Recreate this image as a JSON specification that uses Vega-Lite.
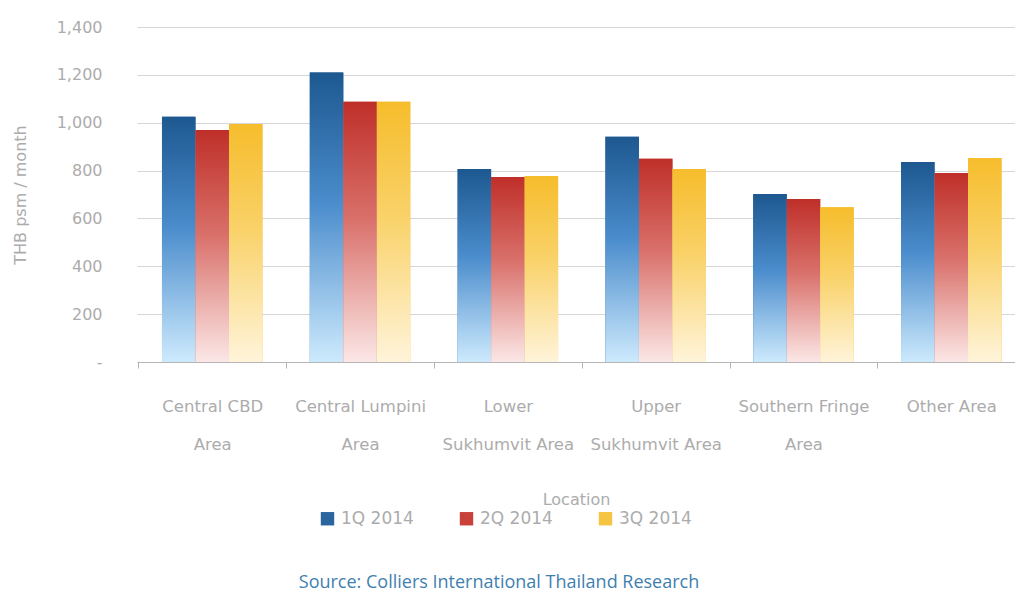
{
  "$schema": "https://vega.github.io/schema/vega-lite/v6.json",
  "width": 878,
  "height": 335,
  "padding": {"top": 19, "left": 12, "right": 0, "bottom": 2},
  "background": "white",
  "config": {
    "view": {"stroke": null},
    "font": "DejaVu Sans"
  },
  "title": {
    "text": "Source: Colliers International Thailand Research",
    "orient": "bottom",
    "anchor": "middle",
    "dx": -77,
    "offset": 47,
    "font": "Open Sans",
    "fontSize": 18,
    "fontWeight": "normal",
    "color": "#3f7fb0"
  },
  "data": {
    "values": [
      {"Location": "Central CBD Area", "Quarter": "1Q 2014", "value": 1025},
      {"Location": "Central CBD Area", "Quarter": "2Q 2014", "value": 970},
      {"Location": "Central CBD Area", "Quarter": "3Q 2014", "value": 995},
      {"Location": "Central Lumpini Area", "Quarter": "1Q 2014", "value": 1210},
      {"Location": "Central Lumpini Area", "Quarter": "2Q 2014", "value": 1088},
      {"Location": "Central Lumpini Area", "Quarter": "3Q 2014", "value": 1088},
      {"Location": "Lower Sukhumvit Area", "Quarter": "1Q 2014", "value": 807},
      {"Location": "Lower Sukhumvit Area", "Quarter": "2Q 2014", "value": 773},
      {"Location": "Lower Sukhumvit Area", "Quarter": "3Q 2014", "value": 777},
      {"Location": "Upper Sukhumvit Area", "Quarter": "1Q 2014", "value": 941},
      {"Location": "Upper Sukhumvit Area", "Quarter": "2Q 2014", "value": 849},
      {"Location": "Upper Sukhumvit Area", "Quarter": "3Q 2014", "value": 807},
      {"Location": "Southern Fringe Area", "Quarter": "1Q 2014", "value": 702},
      {"Location": "Southern Fringe Area", "Quarter": "2Q 2014", "value": 681},
      {"Location": "Southern Fringe Area", "Quarter": "3Q 2014", "value": 647},
      {"Location": "Other Area", "Quarter": "1Q 2014", "value": 836},
      {"Location": "Other Area", "Quarter": "2Q 2014", "value": 790},
      {"Location": "Other Area", "Quarter": "3Q 2014", "value": 853}
    ]
  },
  "encoding": {
    "x": {
      "field": "Location",
      "type": "nominal",
      "sort": ["Central CBD Area", "Central Lumpini Area", "Lower Sukhumvit Area", "Upper Sukhumvit Area", "Southern Fringe Area", "Other Area"],
      "scale": {"paddingInner": 0.32, "paddingOuter": 0.13, "align": 0.65},
      "axis": {
        "title": "Location",
        "labelAngle": 0,
        "labelExpr": "{'Central CBD Area': ['Central CBD', 'Area'], 'Central Lumpini Area': ['Central Lumpini', 'Area'], 'Lower Sukhumvit Area': ['Lower', 'Sukhumvit Area'], 'Upper Sukhumvit Area': ['Upper', 'Sukhumvit Area'], 'Southern Fringe Area': ['Southern Fringe', 'Area'], 'Other Area': ['Other Area']}[datum.value]",
        "labelFont": "DejaVu Sans",
        "labelFontSize": 16.5,
        "labelColor": "#acacac",
        "labelLineHeight": 38,
        "labelPadding": 30,
        "labelLimit": 200,
        "ticks": true,
        "tickSize": 6,
        "tickOffset": -73.9,
        "labelOffset": 73.9,
        "tickColor": "#b5b5b5",
        "domainColor": "#b5b5b5",
        "titleFont": "DejaVu Sans",
        "titleFontSize": 16,
        "titleFontWeight": "normal",
        "titleColor": "#acacac",
        "titlePadding": 39,
        "grid": false
      }
    },
    "xOffset": {
      "field": "Quarter",
      "type": "nominal",
      "scale": {"domain": ["1Q 2014", "2Q 2014", "3Q 2014"], "paddingInner": 0, "paddingOuter": 0}
    },
    "y": {
      "field": "value",
      "type": "quantitative",
      "scale": {"domain": [0, 1400], "nice": false},
      "axis": {
        "title": "THB psm / month",
        "values": [0, 200, 400, 600, 800, 1000, 1200, 1400],
        "labelExpr": "datum.value === 0 ? '-' : format(datum.value, ',')",
        "labelFont": "DejaVu Sans",
        "labelFontSize": 16,
        "labelColor": "#acacac",
        "labelPadding": 35,
        "ticks": false,
        "domain": false,
        "grid": true,
        "gridColor": "#d6d6d6",
        "gridWidth": 1.2,
        "titleFont": "DejaVu Sans",
        "titleFontSize": 16,
        "titleFontWeight": "normal",
        "titleColor": "#acacac",
        "titlePadding": 28
      }
    }
  },
  "layer": [
    {
      "mark": {"type": "bar"},
      "encoding": {
        "color": {
          "field": "Quarter",
          "type": "nominal",
          "scale": {"domain": ["1Q 2014", "2Q 2014", "3Q 2014"], "range": ["#2a65a0", "#c9413b", "#f6c443"]},
          "legend": {
            "title": null,
            "orient": "none",
            "direction": "horizontal",
            "legendX": 182,
            "legendY": 483,
            "symbolType": "square",
            "symbolSize": 180,
            "symbolStrokeWidth": 0,
            "labelFont": "DejaVu Sans",
            "labelFontSize": 17,
            "labelColor": "#acacac",
            "labelOffset": 5,
            "columnPadding": 44
          }
        }
      }
    },
    {
      "transform": [{"filter": "datum.Quarter === '1Q 2014'"}],
      "mark": {
        "type": "bar",
        "fill": {"gradient": "linear", "x1": 0, "y1": 0, "x2": 0, "y2": 1,
          "stops": [{"offset": 0, "color": "#1d5890"}, {"offset": 0.45, "color": "#4a8ccc"}, {"offset": 1, "color": "#cdeafd"}]}
      },
      "encoding": {}
    },
    {
      "transform": [{"filter": "datum.Quarter === '2Q 2014'"}],
      "mark": {
        "type": "bar",
        "fill": {"gradient": "linear", "x1": 0, "y1": 0, "x2": 0, "y2": 1,
          "stops": [{"offset": 0, "color": "#bf2f29"}, {"offset": 0.45, "color": "#d9706a"}, {"offset": 1, "color": "#fbe7e6"}]}
      },
      "encoding": {}
    },
    {
      "transform": [{"filter": "datum.Quarter === '3Q 2014'"}],
      "mark": {
        "type": "bar",
        "fill": {"gradient": "linear", "x1": 0, "y1": 0, "x2": 0, "y2": 1,
          "stops": [{"offset": 0, "color": "#f6bd2c"}, {"offset": 0.45, "color": "#f9d26a"}, {"offset": 1, "color": "#fff4da"}]}
      },
      "encoding": {}
    }
  ]
}
